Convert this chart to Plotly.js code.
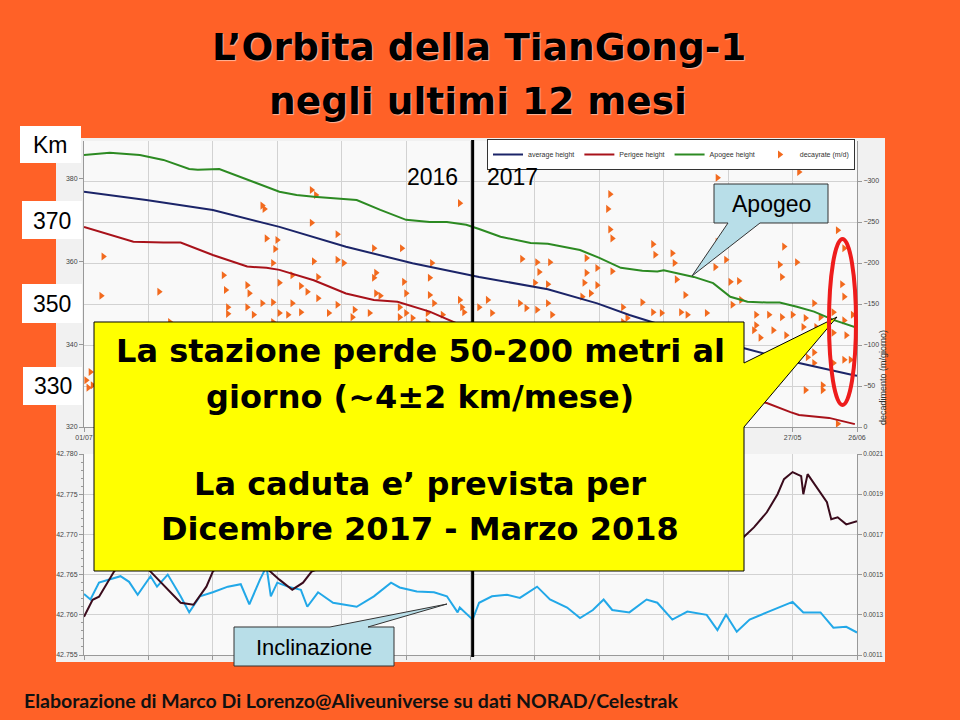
<!DOCTYPE html>
<html>
<head>
<meta charset="utf-8">
<script src="https://cdn.plot.ly/plotly-3.0.1.min.js"></script>
<style>html,body{margin:0;padding:0;background:#FF6127;}#chart{width:960px;height:720px;}</style>
</head>
<body>
<div id="chart"></div>
<script>
// ---------- DATA (x = days since 01/07/2016) ----------
const tickDays = [0,30,60,90,120,150,180,210,240,270,300,330,360];
const tickLabels = ['01/07','31/07','30/08','29/09','29/10','28/11','28/12','27/01','26/02','28/03','27/04','27/05','26/06'];
const yearBoundaryDay = 181;

const apogeeDays = [0,12,26,37,49,53,63,73,91,99,107,127,138,150,161,169,178,184,194,208,216,231,240,250,260,267,270,284,293,301,309,318,324,332,340,349,358,360];
const apogeeKm   = [385.8,386.3,385.8,384.6,382.4,382.2,382.4,380.5,376.9,376.1,375.7,374.9,372.5,370.1,369.6,369.6,368.9,367.9,366.0,364.5,364.3,362.8,360.9,358.5,357.8,357.6,357.9,356.3,354.8,351.5,350.3,350.1,350.1,349.1,347.9,345.9,344.3,344.0];

const averageDays = [0,29,60,91,122,153,184,216,239,254,270,290,307,333,358,360];
const averageKm   = [376.9,374.9,372.5,368.4,363.6,359.6,356.3,353.3,349.9,347.1,344.5,341.0,339.1,335.5,332.6,332.4];

const perigeeDays = [0,23,37,45,60,76,85,91,107,122,135,146,161,172,185,200,220,240,260,280,300,307,318,329,333,347,359];
const perigeeKm   = [368.4,364.8,364.6,364.6,361.6,358.8,358.5,358.0,355.5,352.3,350.7,350.3,347.9,345.5,342.5,340.0,337.0,334.5,332.0,330.0,328.3,327.0,325.8,323.6,322.9,322.2,320.7];

const decayDays = [9,8,35,83,84,106,108,106,85,90,89,118,135,148,175,162,118,121,107,88,97,109,65,66,76,77,91,101,104,136,135,149,150,161,136,138,161,163,175,176,177,67,83,88,97,109,118,126,133,147,150,160,67,76,79,91,95,101,114,125,147,153,167,40,88,160,
  245,244,245,246,295,333,351,354,265,266,274,204,211,217,212,216,210,234,234,239,246,233,232,239,236,275,276,280,294,299,295,326,324,332,325,305,301,353,354,349,340,358,203,206,216,218,211,260,265,269,278,281,290,302,306,313,319,325,330,336,343,354,188,190,184,251,251,253,
  313,321,327,335,341,315,337,340,349,354,357,344,336,344,351,355,349,312,340,1,3,4,2];
const decayRate = [-208,-160,-165,-270,-266,-289,-283,-249,-230,-228,-217,-235,-218,-218,-273,-200,-204,-200,-202,-200,-185,-183,-185,-167,-173,-163,-176,-172,-165,-188,-182,-177,-163,-182,-163,-160,-161,-151,-155,-146,-140,-146,-151,-152,-151,-157,-149,-143,-139,-146,-139,-139,-138,-146,-137,-139,-137,-140,-139,-134,-134,-133,-137,-128,-128,-128,
  -284,-266,-241,-230,-304,-311,-240,-218,-223,-210,-212,-205,-201,-201,-189,-174,-176,-206,-188,-194,-190,-176,-159,-173,-163,-200,-180,-161,-195,-204,-226,-220,-198,-201,-183,-178,-177,-174,-159,-140,-151,-137,-151,-145,-151,-137,-143,-152,-140,-139,-140,-137,-139,-149,-155,-137,-137,-134,-137,-133,-134,-130,-155,-139,-146,-146,-128,-133,
  -124,-118,-112,-122,-122,-109,-85,-78,-78,-82,-82,-51,-45,-45,-4,-112,-115,-118,-91,-57,-67,-51,-48];

const inclDays = [0,3,7,12,17,21,25,31,34,39,45,49,54,60,67,73,77,82,85,87,90,95,101,104,109,116,127,135,143,147,155,163,169,174,175,181,184,190,197,203,211,217,225,231,237,242,246,254,262,267,274,281,290,295,299,304,310,318,324,330,335,343,349,355,360];
const inclDeg  = [42.7626,42.7619,42.7640,42.7644,42.7648,42.7641,42.7625,42.7648,42.7635,42.7650,42.7623,42.7603,42.7623,42.7628,42.7635,42.7638,42.7613,42.7644,42.7660,42.7623,42.7640,42.7635,42.7631,42.7610,42.7628,42.7615,42.7610,42.7623,42.7640,42.7634,42.7629,42.7628,42.7623,42.7603,42.7609,42.7594,42.7615,42.7623,42.7625,42.7621,42.7635,42.7619,42.7609,42.7596,42.7606,42.7619,42.7606,42.7603,42.7619,42.7615,42.7594,42.7604,42.7600,42.7581,42.7600,42.7579,42.7594,42.7603,42.7609,42.7616,42.7603,42.7603,42.7584,42.7585,42.7578];

const eccDays = [0,4,7,11,14,20,25,31,39,45,51,57,60,70,80,87,91,97,102,106,130,160,200,240,280,307,312,318,323,326,330,334,335,337,341,346,348,351,355,360];
const eccVal  = [0.00129,0.001375,0.00139,0.00146,0.001515,0.00160,0.00158,0.001515,0.001425,0.00136,0.00135,0.00144,0.001515,0.00162,0.00158,0.00151,0.001475,0.001425,0.00146,0.001515,0.00162,0.00165,0.00160,0.00163,0.00166,0.001685,0.001735,0.00181,0.0019,0.001975,0.00201,0.00199,0.0019,0.0020,0.00194,0.00186,0.001775,0.001785,0.00175,0.001765];

// ---------- helpers for page-pixel placement of overlay items ----------
const W = 960, H = 720;
const PX = v => v / W;
const PY = v => 1 - v / H;
const pathP = pts => 'M' + pts.map(p => PX(p[0]).toFixed(5) + ',' + PY(p[1]).toFixed(5)).join('L') + 'Z';

const tickFont = {family: 'Liberation Sans, Arial', size: 7, color: '#444'};
const gridC = '#D2D2D2';

const traces = [
  {x: decayDays, y: decayRate, xaxis: 'x', yaxis: 'y', type: 'scatter', mode: 'markers', name: 'decayrate (m/d)', legendrank: 4,
   marker: {symbol: 'triangle-right', size: 7, color: '#F26A1E'}},
  {x: averageDays, y: averageKm, xaxis: 'x', yaxis: 'y2', type: 'scatter', mode: 'lines', name: 'average height', legendrank: 1,
   line: {color: '#1B2468', width: 2}},
  {x: perigeeDays, y: perigeeKm, xaxis: 'x', yaxis: 'y2', type: 'scatter', mode: 'lines', name: 'Perigee height', legendrank: 2,
   line: {color: '#A8121A', width: 2}},
  {x: apogeeDays, y: apogeeKm, xaxis: 'x', yaxis: 'y2', type: 'scatter', mode: 'lines', name: 'Apogee height', legendrank: 3,
   line: {color: '#2C8A22', width: 2}},
  {x: eccDays, y: eccVal, xaxis: 'x2', yaxis: 'y4', type: 'scatter', mode: 'lines', showlegend: false,
   line: {color: '#3A0B1C', width: 2}},
  {x: inclDays, y: inclDeg, xaxis: 'x2', yaxis: 'y3', type: 'scatter', mode: 'lines', showlegend: false,
   line: {color: '#22A8E8', width: 2}}
];

const xDomain = [PX(84), PX(857)];
const layout = {
  width: W, height: H,
  margin: {l: 0, r: 0, t: 0, b: 0, pad: 0, autoexpand: false},
  paper_bgcolor: '#FF6127',
  plot_bgcolor: 'rgba(0,0,0,0)',
  showlegend: true,
  legend: {orientation: 'h', x: PX(855), y: PY(139), xanchor: 'right', yanchor: 'top',
    bgcolor: '#FFFFFF', bordercolor: '#333', borderwidth: 1, font: {family: 'Liberation Sans, Arial', size: 7, color: '#333'},
    itemwidth: 30, traceorder: 'normal', tracegroupgap: 0},
  xaxis: {domain: xDomain, anchor: 'y', range: [0, 360], tickvals: tickDays, ticktext: tickLabels,
    showgrid: true, gridcolor: gridC, zeroline: false, showline: true, linecolor: '#999',
    ticks: 'outside', ticklen: 4, tickcolor: '#999', tickfont: tickFont},
  yaxis: {domain: [PY(427), PY(141)], anchor: 'x', side: 'right', range: [0, -348.8],
    tickvals: [0,-50,-100,-150,-200,-250,-300], showgrid: true, gridcolor: gridC, zeroline: false,
    showline: true, linecolor: '#999', ticks: 'outside', ticklen: 4, tickcolor: '#999', tickfont: tickFont},
  yaxis2: {overlaying: 'y', anchor: 'x', side: 'left', range: [320, 389.17],
    tickvals: [320,340,360,380], showgrid: false, zeroline: false, showline: true, linecolor: '#999',
    ticks: 'outside', ticklen: 4, tickcolor: '#999', tickfont: tickFont},
  xaxis2: {domain: xDomain, anchor: 'y3', range: [0, 360], tickvals: tickDays, showticklabels: false,
    showgrid: true, gridcolor: gridC, zeroline: false, showline: true, linecolor: '#999',
    ticks: 'outside', ticklen: 4, tickcolor: '#999'},
  yaxis3: {domain: [PY(655), PY(454)], anchor: 'x2', side: 'left', range: [42.755, 42.780], dtick: 0.005,
    tickformat: '.3f', showgrid: true, gridcolor: gridC, zeroline: false, showline: true, linecolor: '#999',
    ticks: 'outside', ticklen: 4, tickcolor: '#999', tickfont: tickFont,
    minor: {dtick: 0.001, ticks: 'outside', ticklen: 2, tickcolor: '#999'}},
  yaxis4: {overlaying: 'y3', anchor: 'x2', side: 'right', range: [0.0011, 0.0021], tick0: 0.0011, dtick: 0.0002,
    tickformat: '.4f', showgrid: false, zeroline: false, showline: true, linecolor: '#999',
    ticks: 'outside', ticklen: 4, tickcolor: '#999', tickfont: Object.assign({}, tickFont, {size: 6.5})},
  shapes: [
    {type: 'rect', xref: 'paper', yref: 'paper', x0: PX(56), x1: PX(885), y0: PY(662), y1: PY(138),
     fillcolor: '#F1F1F1', line: {width: 0}, layer: 'below'},
    {type: 'rect', xref: 'paper', yref: 'paper', x0: PX(84), x1: PX(857), y0: PY(427), y1: PY(141),
     fillcolor: '#F9F9F9', line: {width: 0}, layer: 'below'},
    {type: 'rect', xref: 'paper', yref: 'paper', x0: PX(84), x1: PX(857), y0: PY(655), y1: PY(454),
     fillcolor: '#F9F9F9', line: {width: 0}, layer: 'below'},
    {type: 'line', xref: 'x', yref: 'paper', x0: yearBoundaryDay, x1: yearBoundaryDay, y0: PY(657), y1: PY(140),
     line: {color: '#000', width: 3}, layer: 'above'},
    {type: 'path', xref: 'paper', yref: 'paper', layer: 'above',
     path: pathP([[94,322],[744,322],[744,363],[837,317],[744,427],[744,571],[94,571]]),
     fillcolor: '#FFFF00', line: {color: '#000', width: 1}},
    {type: 'circle', xref: 'paper', yref: 'paper', layer: 'above', x0: PX(829), x1: PX(856), y0: PY(405), y1: PY(239),
     line: {color: '#EE1C1C', width: 4}},
    {type: 'path', xref: 'paper', yref: 'paper', layer: 'above',
     path: pathP([[714,184],[828,184],[828,223],[760,223],[692,276],[728,223],[714,223]]),
     fillcolor: '#B8DEE8', line: {color: '#333', width: 1}},
    {type: 'path', xref: 'paper', yref: 'paper', layer: 'above',
     path: pathP([[234,627],[330,627],[447,604],[368,627],[394,627],[394,666],[234,666]]),
     fillcolor: '#B8DEE8', line: {color: '#333', width: 1}},
    {type: 'rect', xref: 'paper', yref: 'paper', layer: 'above', x0: PX(20), x1: PX(81), y0: PY(163), y1: PY(126),
     fillcolor: '#FFFFFF', line: {width: 0}},
    {type: 'rect', xref: 'paper', yref: 'paper', layer: 'above', x0: PX(22), x1: PX(82), y0: PY(239), y1: PY(201),
     fillcolor: '#FFFFFF', line: {width: 0}},
    {type: 'rect', xref: 'paper', yref: 'paper', layer: 'above', x0: PX(22), x1: PX(82), y0: PY(323), y1: PY(284),
     fillcolor: '#FFFFFF', line: {width: 0}},
    {type: 'rect', xref: 'paper', yref: 'paper', layer: 'above', x0: PX(23), x1: PX(82), y0: PY(405), y1: PY(367),
     fillcolor: '#FFFFFF', line: {width: 0}}
  ],
  annotations: []
};

const ann = (text, x, y, font, extra) => Object.assign({text: text, xref: 'paper', yref: 'paper', x: PX(x), y: PY(y),
  xanchor: 'center', yanchor: 'middle', showarrow: false, font: font}, extra || {});

const titleFont = {family: 'DejaVu Sans', size: 37.5, color: '#000', weight: 'bold', shadow: '1px 1px 1px rgba(255,255,255,0.55)'};
const boxFont = {family: 'DejaVu Sans', size: 32, color: '#000', weight: 'bold'};
const lblFont = {family: 'Liberation Sans, Arial', size: 23, color: '#000'};

layout.annotations.push(
  ann('L’Orbita della TianGong-1', 479, 47, titleFont),
  ann('negli ultimi 12 mesi', 478, 101, titleFont),
  ann('La stazione perde 50-200 metri al', 420, 351, boxFont),
  ann('giorno (~4±2 km/mese)', 420, 397, boxFont),
  ann('La caduta e’ prevista per', 420, 484, boxFont),
  ann('Dicembre 2017 - Marzo 2018', 420, 529, boxFont),
  ann('Km', 50.5, 145, lblFont),
  ann('370', 52, 221, lblFont),
  ann('350', 52, 304, lblFont),
  ann('330', 52.5, 386, lblFont),
  ann('2016', 432, 177, lblFont),
  ann('2017', 512, 177, lblFont),
  ann('Apogeo', 771, 204, lblFont),
  ann('Inclinazione', 314, 647, Object.assign({}, lblFont, {size: 22})),
  ann('decadimento (m/giorno)', 883, 378, {family: 'Liberation Sans, Arial', size: 9, color: '#333'}, {textangle: -90}),
  ann('Elaborazione di Marco Di Lorenzo@Aliveuniverse su dati NORAD/Celestrak', 22, 700,
      {family: 'Lato', size: 19.5, color: '#111', weight: 'bold'}, {xanchor: 'left'})
);

Plotly.newPlot('chart', traces, layout, {staticPlot: true, displayModeBar: false});
</script>
</body>
</html>
